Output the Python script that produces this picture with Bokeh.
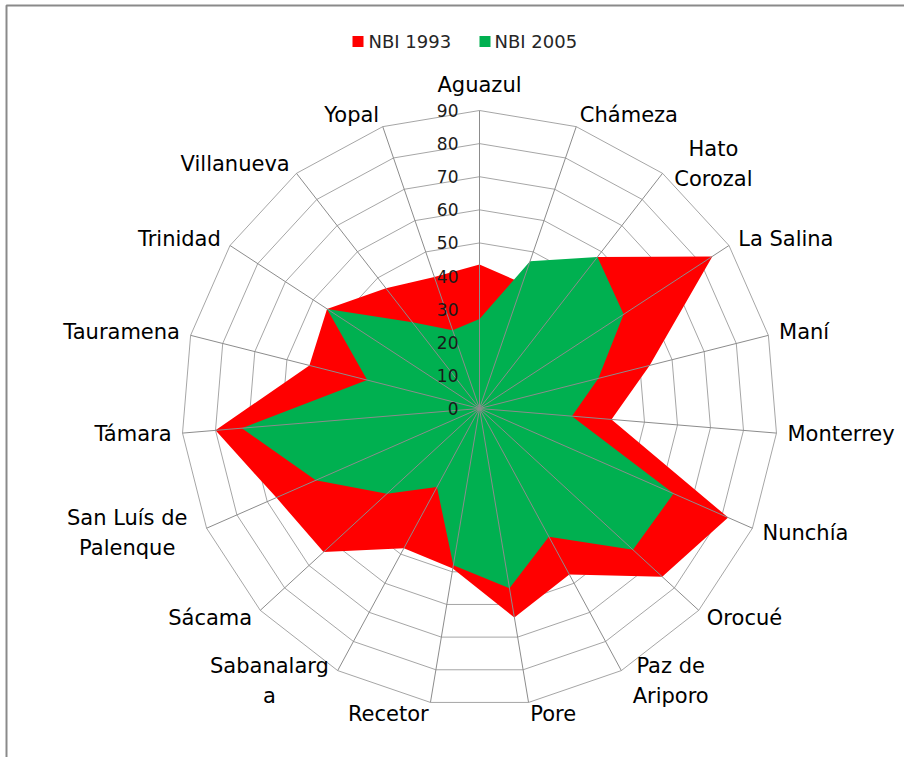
import numpy as np
from bokeh.plotting import figure
from bokeh.models import Range1d, ColumnDataSource
from bokeh.core.properties import value
from bokeh.embed import file_html
from bokeh.resources import INLINE

# ---------------- data ----------------
categories = ["Aguazul", "Chámeza", "Hato\nCorozal", "La Salina", "Maní", "Monterrey",
              "Nunchía", "Orocué", "Paz de\nAriporo", "Pore", "Recetor", "Sabanalarg\na",
              "Sácama", "San Luís de\nPalenque", "Támara", "Tauramena", "Trinidad",
              "Villanueva", "Yopal"]
nbi_1993 = [43.5, 40, 58, 84, 53, 40, 82, 75, 57, 64, 49, 48, 64, 67, 80, 53, 55, 46, 42]
nbi_2005 = [27, 47, 58, 52, 37, 28, 64, 63, 44, 55, 48, 27, 38, 54, 72, 35, 55, 33, 25]
ticks = [0, 10, 20, 30, 40, 50, 60, 70, 80, 90]
tick_labels = ["0", "10", "20", "30", "40", "50", "60", "70", "80", "90"]
series_names = ["NBI 1993", "NBI 2005"]
series_colors = ["#FF0000", "#00B050"]

# ---------------- layout ----------------
W, H = 904, 757
k = 298 / 90.0          # px per unit
cx, cy = 479, 408       # picture coords of centre
x0 = (0 - cx) / k
x1 = (W - cx) / k
y1 = (cy - 0) / k
y0 = -(H - cy) / k
rmax = ticks[-1]

n = len(categories)
ang = np.arange(n) * 2 * np.pi / n
s = np.sin(ang)
c = np.cos(ang)

p = figure(width=W, height=H, x_range=Range1d(x0, x1), y_range=Range1d(y0, y1),
           output_backend="svg", toolbar_location=None, min_border=0,
           x_axis_location=None, y_axis_location=None)
p.grid.visible = False
p.outline_line_color = None
p.background_fill_color = "white"
p.border_fill_color = "white"

FONT = value("DejaVu Sans")

# chart-area frame (top and left edges)
bx = (6 - cx) / k
by = (cy - 5) / k
p.line(x=[bx, bx, x1 + 5], y=[y0 - 5, by, by], line_color="#8a8a8a", line_width=2)

# rings
ring_xs, ring_ys = [], []
for t in ticks[1:]:
    ring_xs.append(list(np.append(t * s, t * s[0])))
    ring_ys.append(list(np.append(t * c, t * c[0])))
p.multi_line(xs=ring_xs, ys=ring_ys, line_color="#a6a6a6", line_width=1)

# filled series
for vals, col in zip([nbi_1993, nbi_2005], series_colors):
    v = np.array(vals, dtype=float)
    p.patch(x=list(v * s), y=list(v * c), fill_color=col, line_color=None)

# spokes
p.segment(x0=[0] * n, y0=[0] * n, x1=list(rmax * s), y1=list(rmax * c),
          line_color="#8c8c8c", line_width=1)

# tick labels
p.text(x=[(458 - cx) / k] * len(ticks), y=ticks, text=tick_labels,
       text_font=FONT, text_font_size="17px", text_color="#1a1a1a",
       text_align="right", text_baseline="middle")

# category labels
fs = 21
groups = {"left": dict(x=[], y=[], text=[]), "right": dict(x=[], y=[], text=[]),
          "center": dict(x=[], y=[], text=[])}
for i, name in enumerate(categories):
    vx = rmax * s[i] + (11 / k) * s[i]
    vy = rmax * c[i] + (12 / k) * c[i]
    if abs(s[i]) < 0.05:
        groups["center"]["x"].append(rmax * s[i])
        groups["center"]["y"].append(rmax + 26 / k)
        groups["center"]["text"].append(name)
    elif "\n" in name:
        wmax = max(len(line) for line in name.split("\n")) * 0.6 * fs / k
        groups["center"]["x"].append(vx + np.sign(s[i]) * wmax / 2)
        groups["center"]["y"].append(vy)
        groups["center"]["text"].append(name)
    elif s[i] > 0:
        groups["left"]["x"].append(vx)
        groups["left"]["y"].append(vy)
        groups["left"]["text"].append(name)
    else:
        groups["right"]["x"].append(vx)
        groups["right"]["y"].append(vy)
        groups["right"]["text"].append(name)

for align, d in groups.items():
    p.text(x="x", y="y", text="text", source=ColumnDataSource(d),
           text_font=FONT, text_font_size=f"{fs}px", text_color="#000000",
           text_align=align, text_baseline="middle", text_line_height=1.25)

# legend
leg_y = (cy - 41) / k
sq_x = [(357.5 - cx) / k, (484.5 - cx) / k]
tx_x = [(368 - cx) / k, (494 - cx) / k]
p.rect(x=sq_x, y=[leg_y] * 2, width=11, height=11, width_units="screen",
       height_units="screen", fill_color=series_colors, line_color=None)
p.text(x=tx_x, y=[leg_y] * 2, text=series_names, text_font=FONT,
       text_font_size="18px", text_color="#262626", text_align="left",
       text_baseline="middle")

open("out.html", "w").write(file_html(p, INLINE))
